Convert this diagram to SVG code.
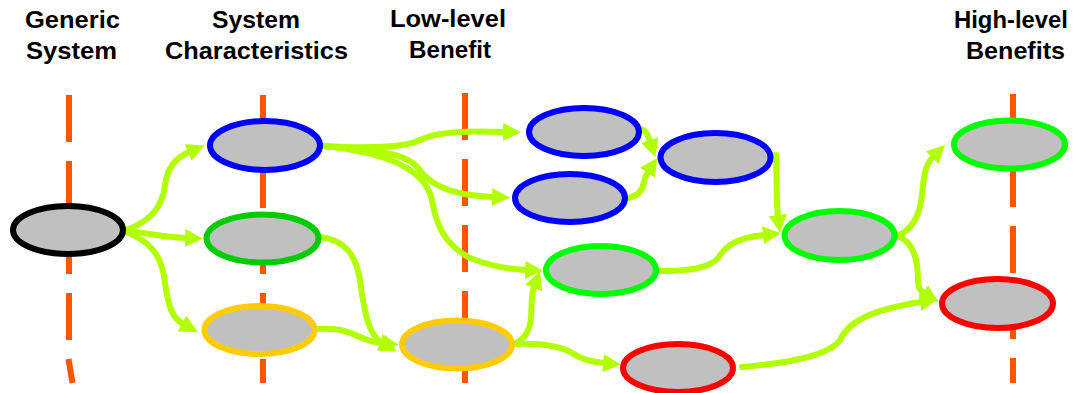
<svg xmlns="http://www.w3.org/2000/svg" width="1081" height="393" viewBox="0 0 1081 393">
<style>
.hdr{font-family:"Liberation Sans",Arial,sans-serif;font-weight:bold;font-size:23px;fill:#000;text-anchor:middle}
.axis{stroke:#FF5500;stroke-width:6;fill:none;stroke-dasharray:47 19}
.node{fill:#C0C0C0;stroke-width:6}
.conn{fill:none;stroke:#B2FF00;stroke-width:6;stroke-linecap:round;stroke-linejoin:round}
</style>
<defs>
<marker id="ah" viewBox="0 0 18 18" markerUnits="userSpaceOnUse" markerWidth="18" markerHeight="18" refX="1" refY="9" orient="auto">
<path d="M0,0 L18,9 L0,18 z" fill="#B2FF00"/>
</marker>
</defs>

<g id="headers">
<text class="hdr" x="72.5" y="28" textLength="95" lengthAdjust="spacingAndGlyphs">Generic</text>
<text class="hdr" x="71.5" y="59" textLength="91" lengthAdjust="spacingAndGlyphs">System</text>
<text class="hdr" x="256" y="28" textLength="88" lengthAdjust="spacingAndGlyphs">System</text>
<text class="hdr" x="256.5" y="59" textLength="183" lengthAdjust="spacingAndGlyphs">Characteristics</text>
<text class="hdr" x="448" y="27" textLength="116" lengthAdjust="spacingAndGlyphs">Low-level</text>
<text class="hdr" x="450" y="58" textLength="82" lengthAdjust="spacingAndGlyphs">Benefit</text>
<text class="hdr" x="1011" y="28" textLength="114" lengthAdjust="spacingAndGlyphs">High-level</text>
<text class="hdr" x="1015.5" y="59" textLength="99" lengthAdjust="spacingAndGlyphs">Benefits</text>
</g>

<g id="axes">
<line class="axis" x1="69" y1="95" x2="69" y2="341"/>
<line x1="68.5" y1="359" x2="72.5" y2="383" stroke="#FF5500" stroke-width="6"/>
<line class="axis" x1="263" y1="95" x2="263" y2="383"/>
<line class="axis" x1="465" y1="93" x2="465" y2="383"/>
<line class="axis" x1="1013" y1="94" x2="1013" y2="383"/>
</g>

<g id="connectors">
<path class="conn" marker-end="url(#ah)" d="M123,231 C152,222 163,205 165,185 C167,168 175,158 189,152"/>
<path class="conn" marker-end="url(#ah)" d="M123,231 C145,232 160,237 186,238"/>
<path class="conn" marker-end="url(#ah)" d="M123,231 C150,240 162,255 165,283 C168,305 172,318 183,324"/>
<path class="conn" marker-end="url(#ah)" d="M323,146 C360,148 405,148 420,140 C438,131 470,131 504,132"/>
<path class="conn" marker-end="url(#ah)" d="M323,146 C370,150 405,152 418,168 C428,182 445,195 493,197"/>
<path class="conn" marker-end="url(#ah)" d="M323,146 C385,152 425,168 432,200 C436,225 445,245 470,258 C490,266 505,269 526,270"/>
<path class="conn" marker-end="url(#ah)" d="M320,237 C345,240 356,255 360,280 C364,310 368,335 382,343"/>
<path class="conn" marker-end="url(#ah)" d="M317,329 C340,328 350,332 360,337 C366,340 372,342 382,343"/>
<path class="conn" marker-end="url(#ah)" d="M516,343 C526,338 530,330 531,318 C532,303 531,295 534,287"/>
<path class="conn" marker-end="url(#ah)" d="M515,344 C545,343 562,347 572,353 C582,360 592,362 604,363"/>
<path class="conn" marker-end="url(#ah)" d="M640,129 C646,130 648,135 650,141"/>
<path class="conn" marker-end="url(#ah)" d="M628,198 C640,196 643,188 644,182 C645,177 646,175 648,172"/>
<path class="conn" marker-end="url(#ah)" d="M776,155 C777,180 776,200 778,216"/>
<path class="conn" marker-end="url(#ah)" d="M659,271 C690,271 710,268 718,258 C726,246 735,238 764,235"/>
<path class="conn" marker-end="url(#ah)" d="M897,236 C912,230 920,215 922,195 C924,175 925,165 933,157"/>
<path class="conn" marker-end="url(#ah)" d="M897,236 C910,240 915,252 917,265 C919,282 916,288 924,293"/>
<path class="conn" marker-end="url(#ah)" d="M742,367 C790,363 830,355 840,340 C848,322 870,310 921,302"/>
</g>

<g id="node-generic"><ellipse class="node" cx="68" cy="230" rx="55" ry="24" stroke="#000000"/></g>
<g id="node-char1"><ellipse class="node" cx="265" cy="145.5" rx="55" ry="24.5" stroke="#0000FF"/></g>
<g id="node-char2"><ellipse class="node" cx="262.5" cy="238.5" rx="56" ry="24" stroke="#00CC00"/></g>
<g id="node-char3"><ellipse class="node" cx="259.5" cy="330" rx="55" ry="24" stroke="#FFCC00"/></g>
<g id="node-low-yellow"><ellipse class="node" cx="457" cy="344.5" rx="55" ry="24" stroke="#FFCC00"/></g>
<g id="node-low-blue1"><ellipse class="node" cx="584" cy="132" rx="55" ry="24" stroke="#0000FF"/></g>
<g id="node-low-blue2"><ellipse class="node" cx="570" cy="198" rx="55" ry="24" stroke="#0000FF"/></g>
<g id="node-low-green"><ellipse class="node" cx="601" cy="270" rx="55" ry="24" stroke="#00FF00"/></g>
<g id="node-low-red"><ellipse class="node" cx="678" cy="368" rx="55" ry="24" stroke="#FF0000"/></g>
<g id="node-mid-blue"><ellipse class="node" cx="715.5" cy="157.5" rx="55" ry="24.5" stroke="#0000FF"/></g>
<g id="node-mid-green"><ellipse class="node" cx="839.5" cy="235.5" rx="55" ry="24.5" stroke="#00FF00"/></g>
<g id="node-high-green"><ellipse class="node" cx="1009.5" cy="144.5" rx="55.5" ry="24" stroke="#00FF00"/></g>
<g id="node-high-red"><ellipse class="node" cx="997.5" cy="303.5" rx="55.5" ry="24.5" stroke="#FF0000"/></g>
</svg>
